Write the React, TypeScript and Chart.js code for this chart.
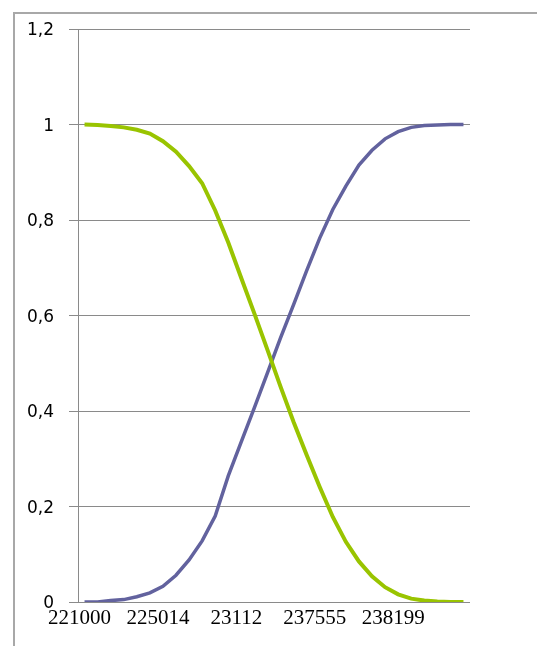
import React, { useEffect, useRef } from "react";
import { Chart, registerables } from "chart.js";

Chart.register(...registerables);

// Category labels along the x axis (only every sixth one is printed)
const xLabels: string[] = [
  "221000", "", "", "", "", "",
  "225014", "", "", "", "", "",
  "23112", "", "", "", "", "",
  "237555", "", "", "", "", "",
  "238199", "", "", "", "", "",
];

// Falling curve (green)
const fallingValues: number[] = [
  1.0, 0.999, 0.997, 0.994, 0.989, 0.981, 0.965, 0.943, 0.913, 0.877,
  0.82, 0.753, 0.678, 0.604, 0.528, 0.451, 0.377, 0.308, 0.241, 0.178,
  0.126, 0.085, 0.054, 0.031, 0.016, 0.007, 0.003, 0.001, 0.0, 0.0,
];

// Rising curve (purple)
const risingValues: number[] = [
  0.0, 0.0, 0.003, 0.005, 0.011, 0.019, 0.033, 0.056, 0.088, 0.128,
  0.18, 0.264, 0.336, 0.407, 0.48, 0.553, 0.623, 0.694, 0.762, 0.822,
  0.871, 0.915, 0.946, 0.97, 0.985, 0.994, 0.998, 0.999, 1.0, 1.0,
];

// Value-axis tick labels, bottom to top
const yTickLabels: string[] = ["0", "0,2", "0,4", "0,6", "0,8", "1", "1,2"];

const WIDTH = 537;
const HEIGHT = 646;

export default function App() {
  const canvasRef = useRef<HTMLCanvasElement | null>(null);

  useEffect(() => {
    const canvas = canvasRef.current;
    if (!canvas) return;
    const chart = new Chart(canvas, {
      type: "line",
      data: {
        labels: xLabels,
        datasets: [
          {
            data: fallingValues,
            borderColor: "#99c400",
            borderWidth: 4,
            pointRadius: 0,
            tension: 0,
            fill: false,
          },
          {
            data: risingValues,
            borderColor: "#62629e",
            borderWidth: 3.5,
            pointRadius: 0,
            tension: 0,
            fill: false,
          },
        ],
      },
      options: {
        animation: false,
        responsive: false,
        devicePixelRatio: 1,
        layout: { padding: { top: 29, right: 67, bottom: 0, left: 0 } },
        plugins: {
          legend: { display: false },
          tooltip: { enabled: false },
        },
        scales: {
          x: {
            type: "category",
            offset: true,
            grid: { display: false },
            border: { display: false },
            ticks: {
              autoSkip: false,
              maxRotation: 0,
              minRotation: 0,
              padding: -4,
              labelOffset: -5,
              color: "#000",
              font: { family: "'Liberation Serif', serif", size: 21 },
            },
            afterFit: (scale: any) => {
              scale.height = HEIGHT - 602;
            },
          },
          y: {
            min: 0,
            max: 1.2,
            ticks: {
              stepSize: 0.2,
              padding: 15,
              labelOffset: 2,
              color: "#000",
              font: { family: "'DejaVu Sans', sans-serif", size: 17 },
              callback: (_v: any, i: number) => yTickLabels[i],
            },
            grid: {
              color: "#8a8a8a",
              lineWidth: 1,
              drawTicks: true,
              tickLength: 9,
            },
            border: { display: true, color: "#8a8a8a", width: 1 },
            afterFit: (scale: any) => {
              scale.width = 78;
            },
          },
        },
      },
    });
    return () => chart.destroy();
  }, []);

  return (
    <div
      style={{
        position: "fixed",
        left: 0,
        top: 0,
        width: WIDTH,
        height: HEIGHT,
        overflow: "hidden",
        background: "#fff",
      }}
    >
      <div
        style={{
          position: "absolute",
          left: 13,
          top: 12,
          width: 700,
          height: 800,
          border: "2px solid #a8a8a8",
        }}
      />
      <canvas
        ref={canvasRef}
        width={WIDTH}
        height={HEIGHT}
        style={{ position: "absolute", left: 0, top: 0 }}
      />
    </div>
  );
}
